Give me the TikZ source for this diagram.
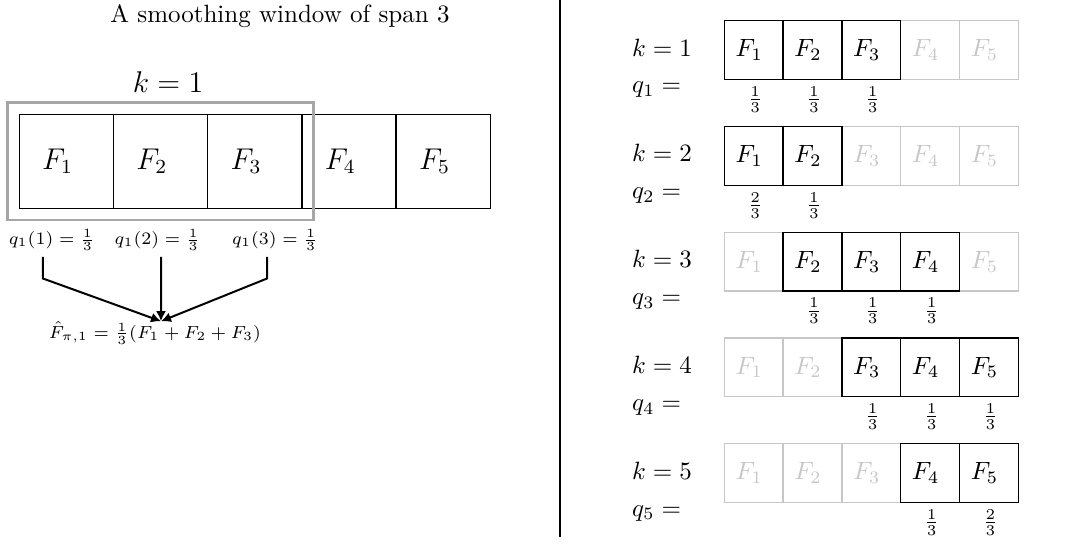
\documentclass[tikz,border=0pt]{standalone}
\usetikzlibrary{fit,arrows.meta}
\begin{document}
\begin{tikzpicture}[x=0.4pt,y=-0.4pt,
  bigbox/.style={draw=black,line width=0.5pt,minimum width=37.68pt,minimum height=37.6pt,inner sep=0pt,outer sep=0pt,font=\large,execute at begin node=\kern-7pt},
  onbox/.style={draw=black,line width=0.5pt,minimum width=23.52pt,minimum height=23.52pt,inner sep=0pt,outer sep=0pt,execute at begin node=\kern-3.6pt},
  offbox/.style={onbox,draw=black!22,text=black!22},
  win/.style={draw=black!35,line width=0.9pt,inner sep=4.68pt},
  wt/.style={font=\scriptsize,inner sep=0pt},
  wr/.style={font=\footnotesize,inner sep=0pt},
  arr/.style={line width=0.8pt,-{Latex[length=4pt,width=4pt]}},
  lab/.style={anchor=west,inner sep=0pt}
]
\useasboundingbox (0,0) rectangle (1067,542);
% ---------- left panel ----------
\node (title) at (280,15.8) {A smoothing window of span 3};
\foreach \c in {1,...,5} \node[bigbox] (L\c) at (94.2*\c-27.8,161.3) {$F_{\c}$};
\node[win,fit=(L1)(L3)] (W) {};
\node[font=\large,inner sep=0pt] (K) at (168,82) {$k=1$};
\node[wt] (Q1) at (51.7,240) {$q_1(1)=\frac13$};
\node[wt] (Q2) at (157.5,240) {$q_1(2)=\frac13$};
\node[wt] (Q3) at (275,240) {$q_1(3)=\frac13$};
\node[wt] (H) at (155,333) {$\hat F_{\pi,1}=\frac13(F_1+F_2+F_3)$};
\draw[arr] ([xshift=-3.5pt,yshift=-2.4pt]Q1.south) -- ++(0,21.6) -- ([xshift=2.4pt]H.north);
\draw[arr] ([xshift=1.4pt,yshift=-2.4pt]Q2.south) -- ([xshift=2.4pt]H.north);
\draw[arr] ([xshift=-3.2pt,yshift=-2.4pt]Q3.south) -- ++(0,21.6) -- ([xshift=2.4pt]H.north);
% ---------- divider ----------
\coordinate (dtop) at (560,0);
\coordinate (dbot) at (560,537);
\draw[line width=0.5pt] (dtop) -- (dbot);
% ---------- right panel ----------
\foreach \r/\on in {1/{1,2,3},2/{1,2},3/{2,3,4},4/{3,4,5},5/{4,5}} {
  \pgfmathsetmacro\yy{50+105.8*(\r-1)}
  \foreach \c in {1,...,5} \node[offbox] (R\r-\c) at (694.9+58.8*\c,\yy) {$F_{\c}$};
  \foreach \c in \on \node[onbox] (R\r-\c) at (694.9+58.8*\c,\yy) {$F_{\c}$};
  \node[lab] (k\r) at (631.7,\yy-2.5) {$k=\r$};
  \node[lab] (q\r) at (631.7,\yy+40) {$q_{\r}=$};
}
\foreach \r/\c/\n in {1/1/1,1/2/1,1/3/1,2/1/2,2/2/1,3/2/1,3/3/1,3/4/1,4/3/1,4/4/1,4/5/1,5/4/1,5/5/2}
  \node[wr] (w\r-\c) at ([xshift=0.6pt,yshift=-8pt]R\r-\c.south) {$\frac{\n}{3}$};
\end{tikzpicture}
\end{document}
